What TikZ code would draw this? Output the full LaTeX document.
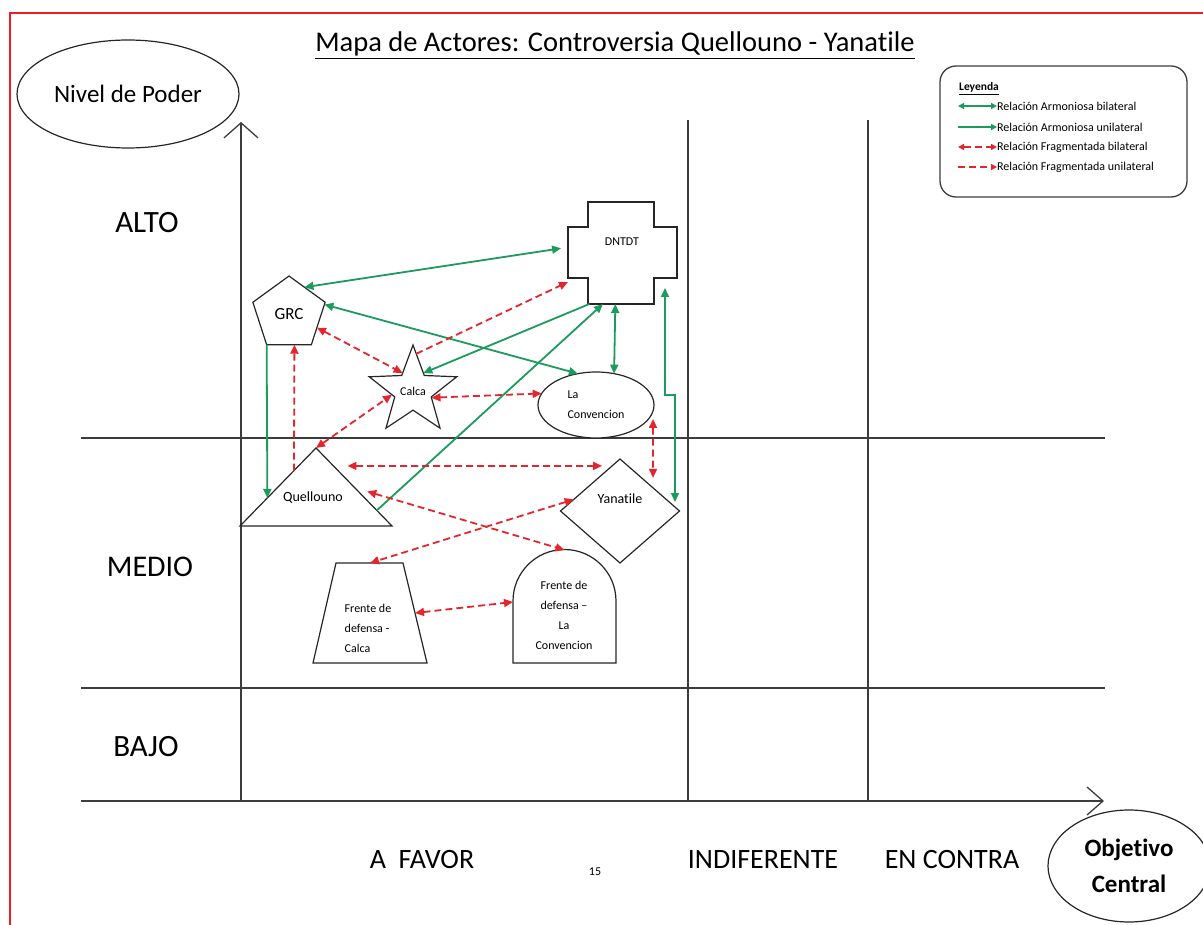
\documentclass[tikz,border=0pt]{standalone}
\usepackage{fontspec}
\setmainfont{Carlito}[Ligatures=NoCommon]
\usetikzlibrary{arrows.meta,shapes.geometric,calc}

\definecolor{c1d9a5e}{RGB}{29,154,94}
\definecolor{ce3262d}{RGB}{227,38,45}
\definecolor{cee1c24}{RGB}{238,28,36}
\definecolor{c3c3c3c}{RGB}{60,60,60}
\definecolor{c262626}{RGB}{38,38,38}

\tikzset{
  actor/.style={draw=c262626, line width=1.2pt, fill=white},
  axisline/.style={draw=c3c3c3c, line width=1.3pt},
  harm/.style={draw=c1d9a5e, line width=1.8pt, ->},
  harm2/.style={draw=c1d9a5e, line width=1.8pt, <->},
  frag/.style={draw=ce3262d, line width=1.8pt, dash pattern=on 7pt off 4pt, ->},
  frag2/.style={draw=ce3262d, line width=1.8pt, dash pattern=on 7pt off 4pt, <->},
}

\begin{document}
\begin{tikzpicture}[y=1pt, x=1pt, yscale=-1, inner sep=0pt, outer sep=0pt,
  >={Triangle[length=9pt,width=8pt]}]
\useasboundingbox (0,0) rectangle (1203,925);

% marco
\draw[cee1c24, line width=1.6pt] (10,925) -- (10,13) -- (1203,13);

% titulo y ejes
\node[font=\fontsize{28.5}{28.5}\selectfont, anchor=base] (title) at (615,52)
  {\underline{Mapa de Actores: Controversia Quellouno - Yanatile}};
\node[actor, ellipse, minimum width=222pt, minimum height=108pt,
  font=\fontsize{25}{25}\selectfont] (nivel) at (128,94) {Nivel de Poder};

\draw[axisline] (81,438) -- (1105,438);
\draw[axisline] (81,688) -- (1105,688);
\draw[axisline] (688,120) -- (688,801);
\draw[axisline] (868,120) -- (868,801);
\draw[axisline, -{Straight Barb[length=15pt,width=34pt]}] (241,801) -- (241,122);
\draw[axisline, -{Straight Barb[length=16pt,width=28pt]}] (81,801) -- (1104,801);

\node[font=\fontsize{31}{31}\selectfont, anchor=base] (alto) at (147,233) {ALTO};
\node[font=\fontsize{30}{30}\selectfont, anchor=base] (medio) at (150,576) {MEDIO};
\node[font=\fontsize{31}{31}\selectfont, anchor=base] (bajo) at (146,756) {BAJO};
\node[font=\fontsize{28}{28}\selectfont, anchor=base] (favor) at (422,868) {A\ \ FAVOR};
\node[font=\fontsize{28}{28}\selectfont, anchor=base] (indif) at (763,868) {INDIFERENTE};
\node[font=\fontsize{28}{28}\selectfont, anchor=base] (contra) at (952,868) {EN CONTRA};
\node[font=\fontsize{12}{12}\selectfont, anchor=base] (pagenum) at (595,875) {15};
\node[actor, ellipse, minimum width=162pt, minimum height=112pt, align=center,
  font=\fontsize{25}{36}\selectfont\bfseries] (objetivo) at (1129,866) {Objetivo\\Central};

% leyenda
\draw[axisline, rounded corners=16pt] (940,66) rectangle (1187,197);
\node[font=\fontsize{11.5}{11.5}\selectfont\bfseries, anchor=base] (leyenda) at (979,91)
  {\underline{Leyenda}};
\begin{scope}[>={Triangle[length=6pt,width=6pt]}, font=\fontsize{12}{12}\selectfont]
  \node[anchor=west] (lgA) at (997,106) {Relación Armoniosa bilateral};
  \node[anchor=west] (lgB) at (997,127) {Relación Armoniosa unilateral};
  \node[anchor=west] (lgC) at (997,147) {Relación Fragmentada bilateral};
  \node[anchor=west] (lgD) at (997,167) {Relación Fragmentada unilateral};
  \draw[harm2, line width=1.5pt] ($(lgA.west)+(-39,0)$) -- (lgA.west);
  \draw[harm, line width=1.5pt] ($(lgB.west)+(-39,0)$) -- (lgB.west);
  \draw[frag2, line width=1.5pt] ($(lgC.west)+(-39,0)$) -- (lgC.west);
  \draw[frag, line width=1.5pt] ($(lgD.west)+(-39,0)$) -- (lgD.west);
\end{scope}

% actores
\draw[actor] (588,202) -- (654,202) -- (654,227) -- (677,227) -- (677,278) --
  (654,278) -- (654,304) -- (588,304) -- (588,278) -- (568,278) -- (568,227) --
  (588,227) -- cycle;
\node[minimum width=109pt, minimum height=102pt] (dntdt) at (622.5,253) {};
\node[font=\fontsize{12}{12}\selectfont] (dntdtlbl) at (622,242) {DNTDT};

\node[actor, regular polygon, regular polygon sides=5, minimum size=76pt,
  font=\fontsize{17}{17}\selectfont] (grc) at (289,314) {GRC};
\node[actor, star, star points=5, star point ratio=2.4, minimum size=92pt,
  font=\fontsize{12}{12}\selectfont] (calca) at (413,391) {Calca};
\node[actor, ellipse, minimum width=116pt, minimum height=66pt, align=left,
  font=\fontsize{12}{20}\selectfont] (laconv) at (596,405) {La\\Convencion};

\node[minimum width=152pt, minimum height=78pt] (quel) at (316,487) {};
\draw[actor] (quel.south west) -- (quel.north) -- (quel.south east) -- cycle;
\node[font=\fontsize{14}{14}\selectfont] (quellbl) at (313,498) {Quellouno};

\node[actor, diamond, minimum width=119pt, minimum height=104pt] (yan) at (620,511) {};
\node[font=\fontsize{14}{14}\selectfont] (yanlbl) at (620,499) {Yanatile};

\node[minimum width=114pt, minimum height=100pt] (frc) at (370,613) {};
\draw[actor] ($(frc.north west)+(23,0)$) -- ($(frc.north east)+(-24,0)$) --
  (frc.south east) -- (frc.south west) -- cycle;
\node[align=left, font=\fontsize{12}{20}\selectfont] (frclbl) at (368,628)
  {Frente de\\defensa -\\Calca};

\draw[actor] (513,663) -- (513,601) arc[start angle=180, end angle=360, radius=51.5]
  -- (616,663) -- cycle;
\node[minimum width=103pt, minimum height=113pt] (frlc) at (564.5,606.5) {};
\node[align=center, font=\fontsize{12}{20}\selectfont] (frlclbl) at (564,615)
  {Frente de\\defensa –\\La\\Convencion};

% relaciones armoniosas
\draw[harm2, shorten >=7pt] (grc.60) -- (dntdt.174);
\draw[harm2] (grc.15) -- (laconv.120);
\draw[harm] (dntdt.237) -- (calca.60);
\draw[harm2] (dntdt.262) -- (laconv.60);
\draw[harm] ($(quel.south east)!0.2!(quel.north)$) -- (dntdt.249);
\draw[harm2] ($(dntdt.south east)+(-12,-16)$) |- ($(yan.east)+(-4.5,-116)$)
  -- ($(yan.east)+(-4.5,-9)$);
\draw[harm] (grc.234) -- ($(quel.south west)!0.36!(quel.north)$);

% relaciones fragmentadas
\draw[frag2] (grc.-26) -- (calca.120);
\draw[frag] (calca.85) -- (dntdt.208);
\draw[frag2] (calca.-20) -- (laconv.168);
\draw[frag2] (quel.north) -- (calca.190);
\draw[frag] ($(quel.south west)!0.71!(quel.north)$) -- (grc.280);
\draw[frag2, shorten <=14pt, shorten >=10pt] ($(quel.north)!0.23!(quel.south east)$)
  -- (yan.100);
\draw[frag2, shorten <=13pt] ($(quel.north)!0.51!(quel.south east)$) -- (frlc.north);
\draw[frag2] (yan.166) -- (frc.north);
\draw[frag2] ($(frc.east)+(-12,0)$) -- (frlc.175);
\draw[frag2, shorten <=8pt, shorten >=10pt] (laconv.-6) -- (yan.35);

\end{tikzpicture}
\end{document}
